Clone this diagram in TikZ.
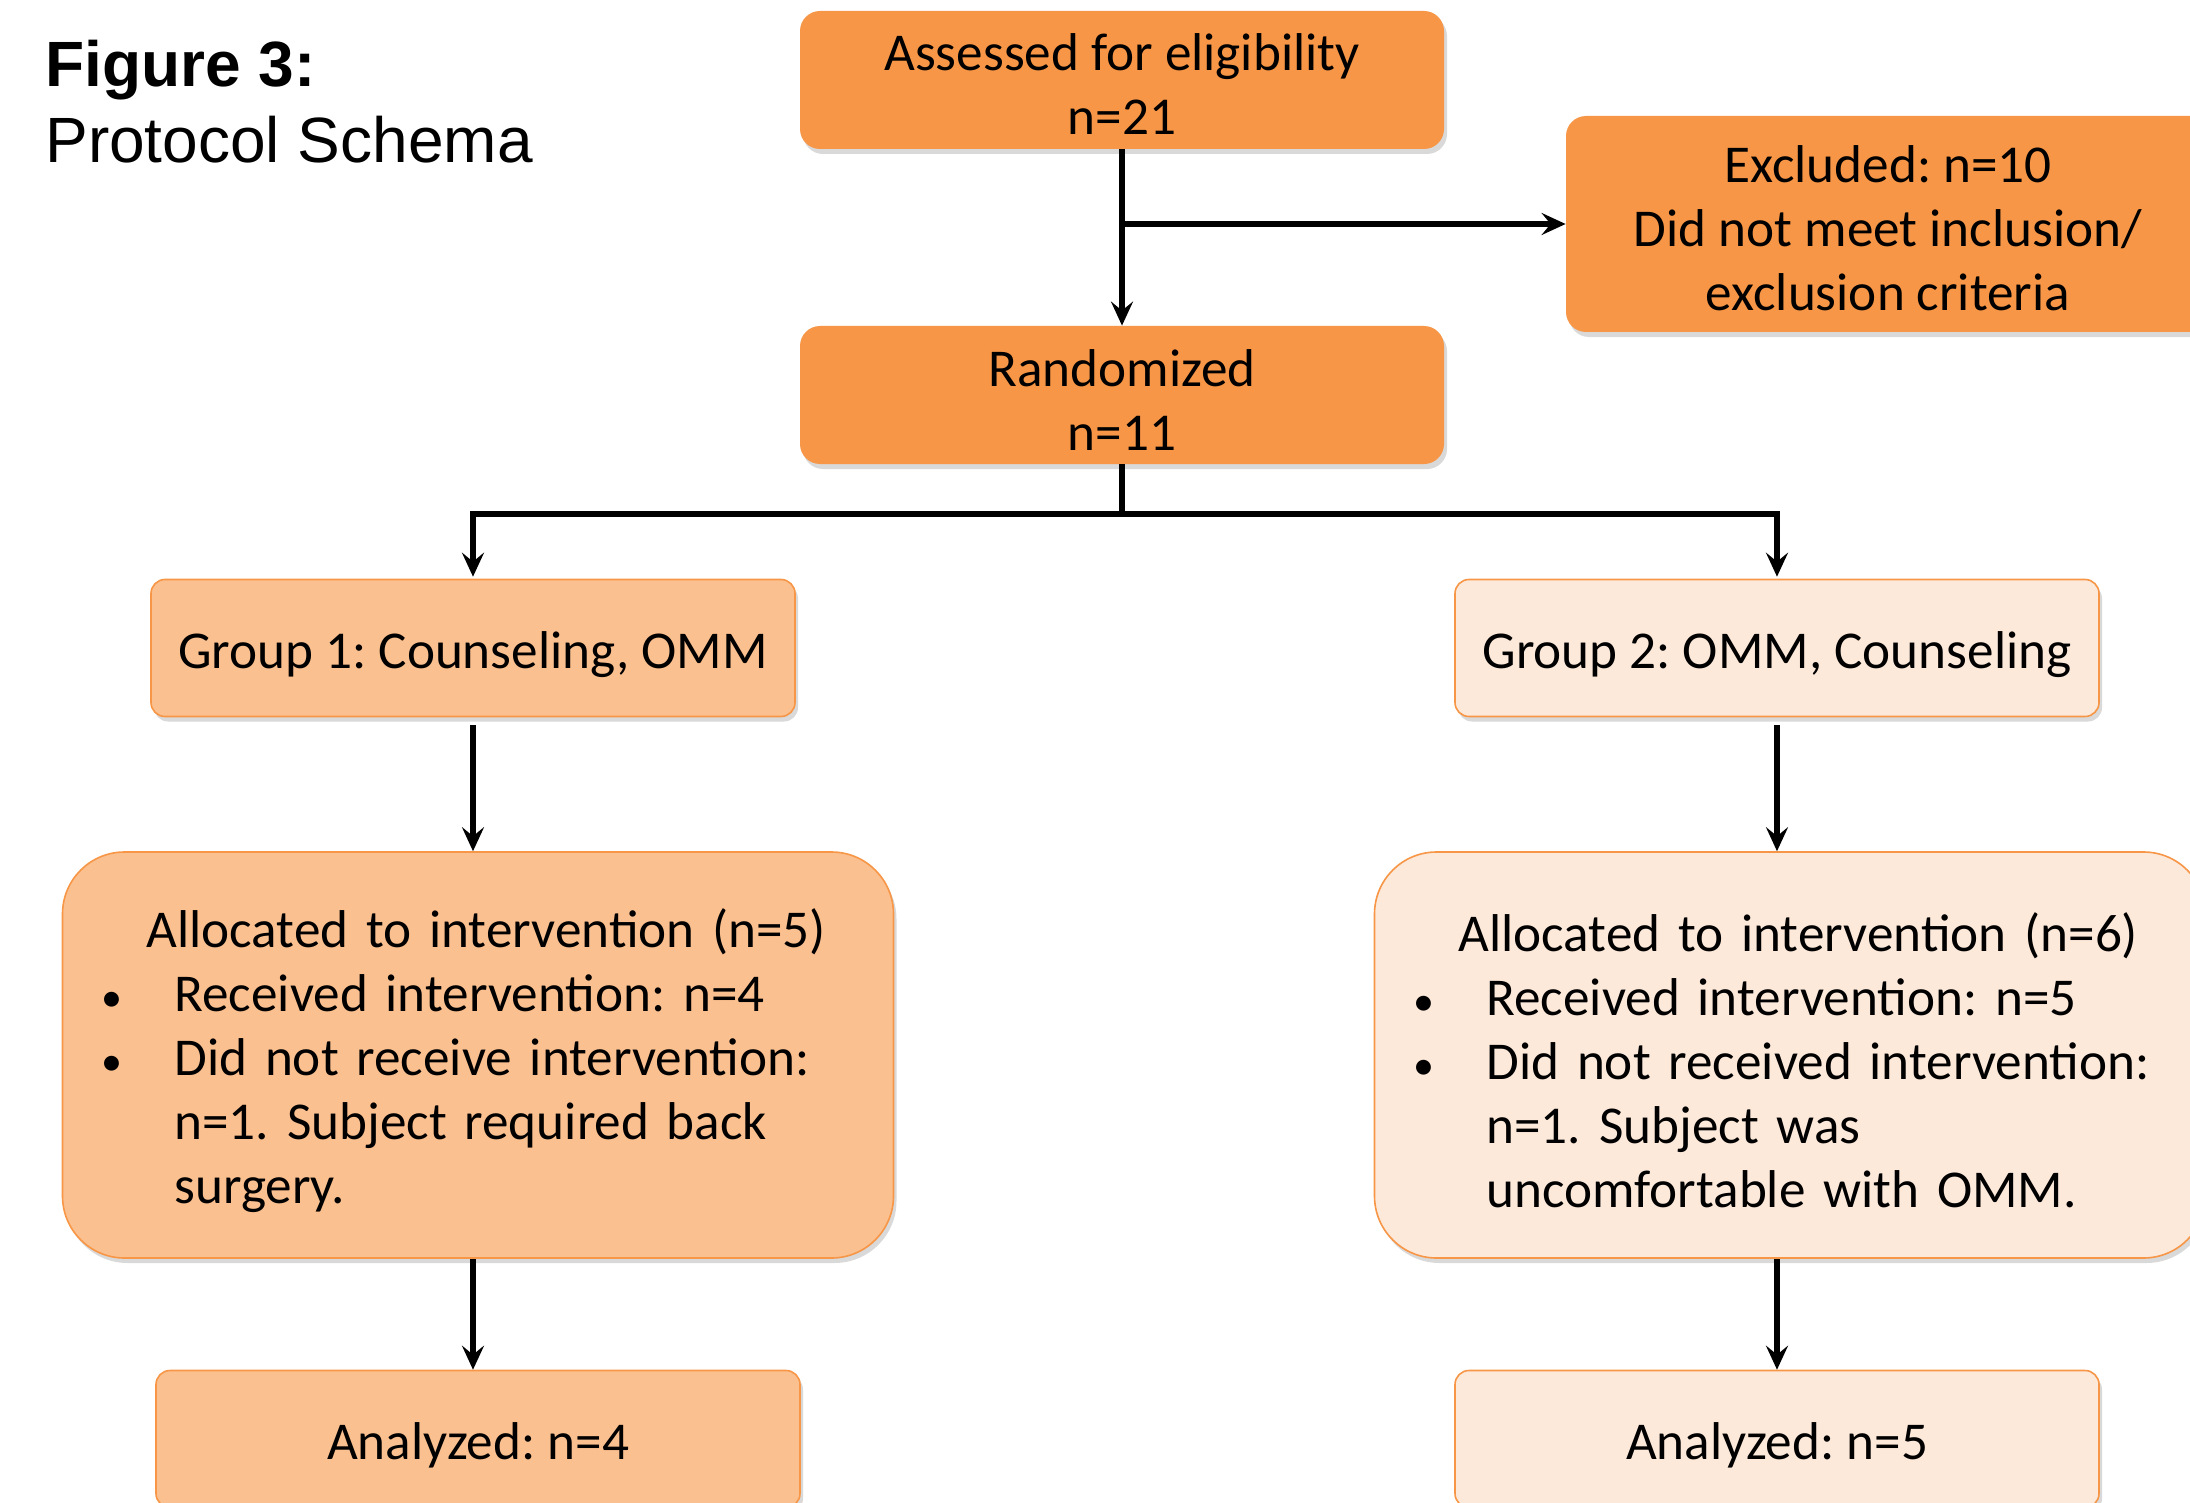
\documentclass[tikz,border=0pt]{standalone}
\usepackage{fontspec}
\setmainfont{Carlito}
\newfontfamily\arialfont{Liberation Sans}
\usetikzlibrary{arrows.meta,positioning,shadows}
\definecolor{ordark}{RGB}{247,150,70}
\definecolor{ormid}{RGB}{251,192,143}
\definecolor{orpale}{RGB}{253,233,218}
\newcommand{\bitem}{\makebox[31.5pt][l]{\hspace*{-5pt}{\fontsize{21}{21}\selectfont\textbullet}}}
\newcommand{\lift}{\rule{0pt}{23pt}}
\frenchspacing

\begin{document}
\begin{tikzpicture}[x=.5pt,y=-.5pt,
    font=\fontsize{26.6}{32}\selectfont,
    box/.style={rectangle,rounded corners=10pt,align=center,inner sep=0pt,
      execute at begin node={\rule{0pt}{25pt}},
      drop shadow={opacity=.3,shadow xshift=1.5pt,shadow yshift=-2.5pt}},
    darkbox/.style={box,fill=ordark,minimum width=322pt,minimum height=69pt},
    lightbox/.style={box,draw=ordark,line width=.8pt,rounded corners=7pt,
      minimum width=322pt,minimum height=68.5pt},
    allocbox/.style={box,draw=ordark,line width=.8pt,rounded corners=31pt,
      align=left,text width=366.5pt,inner xsep=24.5pt,
      minimum width=415.5pt,minimum height=203pt},
    arr/.style={line width=2.6pt,-{Stealth[length=12pt,width=11pt,inset=4.5pt]}},
    ln/.style={line width=2.6pt}]
  \clip (0,0) rectangle (2190,1503);
  % title
  \node[anchor=base west,inner sep=0pt,font=\arialfont\fontsize{32}{38}\selectfont\bfseries] (fig) at (45,87) {Figure 3:};
  \node[anchor=base west,inner sep=0pt,font=\arialfont\fontsize{32}{38}\selectfont] (schema) at (45,163) {Protocol Schema};
  % enrolment
  \node[darkbox] (assess) at (1122,80) {\lift Assessed for eligibility\\n=21};
  \node[darkbox,minimum height=108pt] (excl) at (1888,224) {\lift Excluded: n=10\\Did not meet inclusion/\\exclusion criteria};
  \node[darkbox] (random) at (1122,395) {\lift Randomized\\n=11};
  % groups
  \node[lightbox,fill=ormid] (grp1) at (473,648) {Group 1: Counseling, OMM};
  \node[lightbox,fill=orpale] (grp2) at (1777,648) {Group 2: OMM, Counseling};
  \node[allocbox,fill=ormid] (alloc1) at (478,1055) {\hspace*{17.5pt}Allocated to intervention (n=5)\\
    \bitem Received intervention: n=4\\
    \bitem Did not receive intervention:\\
    \hspace*{31.5pt}n=1. Subject required back\\
    \hspace*{31.5pt}surgery.};
  \node[allocbox,fill=orpale] (alloc2) at (1790,1055) {\hspace*{17.5pt}Allocated to intervention (n=6)\\
    \bitem Received intervention: n=5\\
    \bitem Did not received intervention:\\
    \hspace*{31.5pt}n=1. Subject was\\
    \hspace*{31.5pt}uncomfortable with OMM.};
  \node[lightbox,fill=ormid] (an1) at (478,1439) {Analyzed: n=4};
  \node[lightbox,fill=orpale] (an2) at (1777,1439) {Analyzed: n=5};
  % connectors
  \draw[arr] (assess) -- (random);
  \draw[arr] (assess.south |- excl.west) -- (excl.west);
  \coordinate (fork) at (1122,514);
  \draw[ln] (random) -- (fork);
  \draw[arr] (fork) -| ([yshift=1pt]grp1.north);
  \draw[arr] (fork) -| ([yshift=1pt]grp2.north);
  \draw[arr] ([yshift=-4pt]grp1.south) -- (grp1.south |- alloc1.north);
  \draw[arr] ([yshift=-4pt]grp2.south) -- (grp2.south |- alloc2.north);
  \draw[arr] (grp1.south |- alloc1.south) -- (grp1.south |- an1.north);
  \draw[arr] (grp2.south |- alloc2.south) -- (grp2.south |- an2.north);
\end{tikzpicture}
\end{document}
